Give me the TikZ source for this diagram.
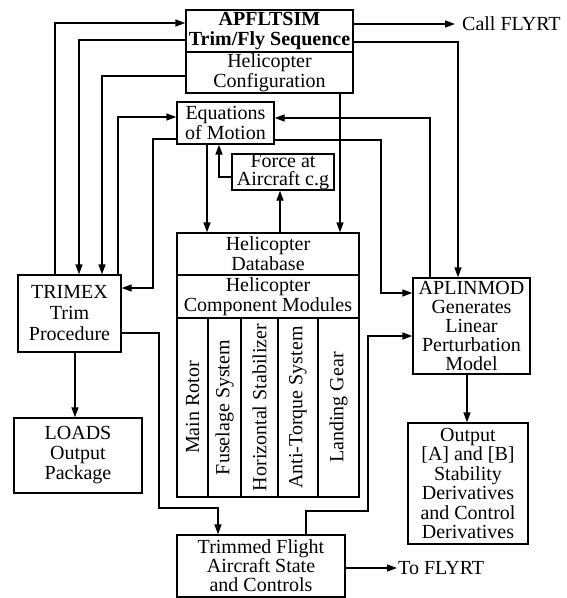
\documentclass[tikz,border=0pt]{standalone}
\usepackage{fontspec}
\setmainfont{Liberation Serif}
\usetikzlibrary{arrows.meta}
\begin{document}
\begin{tikzpicture}[x=1pt,y=-1pt,
  box/.style={draw,line width=1.4pt,inner sep=0pt,align=center,font=\fontsize{20}{19}\selectfont},
  lbl/.style={inner sep=0pt,font=\fontsize{20}{19}\selectfont,anchor=west},
  arr/.style={line width=1.4pt,-{Triangle[length=10pt,width=7pt]}}]
\useasboundingbox (0,0) rectangle (567,598);
% boxes
\node[box,minimum width=167pt,minimum height=42pt,font=\fontsize{20}{20}\selectfont\bfseries] (apf) at (269.5,31) {APFLTSIM\\Trim/Fly Sequence};
\node[box,minimum width=167pt,minimum height=41pt,font=\fontsize{20}{20}\selectfont] (hc) at (269.5,72.5) {Helicopter\\Configuration};
\node[box,minimum width=97pt,minimum height=42pt,font=\fontsize{20}{20}\selectfont] (eom) at (225.5,123) {Equations\\of Motion};
\node[box,minimum width=102pt,minimum height=36pt,font=\fontsize{20}{18}\selectfont] (force) at (283,172) {Force at\\Aircraft c.g};
\node[box,minimum width=182pt,minimum height=42pt,font=\fontsize{20}{20}\selectfont] (hdb) at (268,254) {Helicopter\\Database};
\node[box,minimum width=182pt,minimum height=43pt,font=\fontsize{20}{20}\selectfont] (hcm) at (268,296.5) {Helicopter\\Component Modules};
\node[box,rotate=90,minimum width=179pt,minimum height=31pt] (c1) at (192.5,407.5) {Main Rotor};
\node[box,rotate=90,minimum width=179pt,minimum height=33pt] (c2) at (224.5,407.5) {Fuselage System};
\node[box,rotate=90,minimum width=179pt,minimum height=37pt] (c3) at (259.5,407.5) {Horizontal Stabilizer};
\node[box,rotate=90,minimum width=179pt,minimum height=40pt] (c4) at (298,407.5) {Anti-Torque System};
\node[box,rotate=90,minimum width=179pt,minimum height=41pt] (c5) at (338.5,407.5) {Landing Gear};
\node[box,minimum width=103pt,minimum height=77pt,font=\fontsize{20}{21}\selectfont] (trimex) at (69.5,313.5) {TRIMEX\\Trim\\Procedure};
\node[box,minimum width=128pt,minimum height=75pt,font=\fontsize{20}{20}\selectfont] (loads) at (78,455.5) {LOADS\\Output\\Package};
\node[box,minimum width=168pt,minimum height=62pt] (trimmed) at (261,566) {Trimmed Flight\\Aircraft State\\and Controls};
\node[box,minimum width=117pt,minimum height=96pt] (aplinmod) at (471.5,326) {APLINMOD\\Generates\\Linear\\Perturbation\\Model};
\node[box,minimum width=120pt,minimum height=121pt,font=\fontsize{20}{19.5}\selectfont] (output) at (468,483.5) {Output\\{[A] and [B]}\\Stability\\Derivatives\\and Control\\Derivatives};
\node[lbl,inner xsep=7pt] (call) at (455,24) {Call FLYRT};
\node[lbl,inner xsep=1pt] (tofly) at (397,568) {To FLYRT};
% connectors
\draw[arr] (55,0 |- trimex.north) |- (apf.west |- 0,23);
\draw[arr] (apf.west |- 0,40) -| (79,0 |- trimex.north);
\draw[arr] (hc.west |- 0,76) -| (102,0 |- trimex.north);
\draw[arr] (118,0 |- trimex.north) |- (eom.west |- 0,117);
\draw[arr] (eom.west |- 0,139) -| (153,288) -- (trimex.east |- 0,288);
\draw[arr] (207,0 |- eom.south) -- (207,0 |- hdb.north);
\draw[arr] (force.west |- 0,177) -| (219,0 |- eom.south);
\draw[arr] (280,0 |- hdb.north) -- (280,0 |- force.south);
\draw[arr] (340,0 |- hc.south) -- (340,0 |- hdb.north);
\draw[arr] (apf.east |- 0,24) -- (call.west);
\draw[arr] (apf.east |- 0,42) -| (458,0 |- aplinmod.north);
\draw[arr] (430,0 |- aplinmod.north) |- (eom.east |- 0,118);
\draw[arr] (eom.east |- 0,140) -| (381,293) -- (aplinmod.west |- 0,293);
\draw[arr] (trimex.east |- 0,333) -| (159,508) -| (218,0 |- trimmed.north);
\draw[arr] (306,0 |- trimmed.north) |- (368,511) |- (aplinmod.west |- 0,336);
\draw[arr] (75,0 |- trimex.south) -- (75,0 |- loads.north);
\draw[arr] (467,0 |- aplinmod.south) -- (467,0 |- output.north);
\draw[arr] (trimmed.east |- 0,568) -- (tofly.west);
\end{tikzpicture}
\end{document}
